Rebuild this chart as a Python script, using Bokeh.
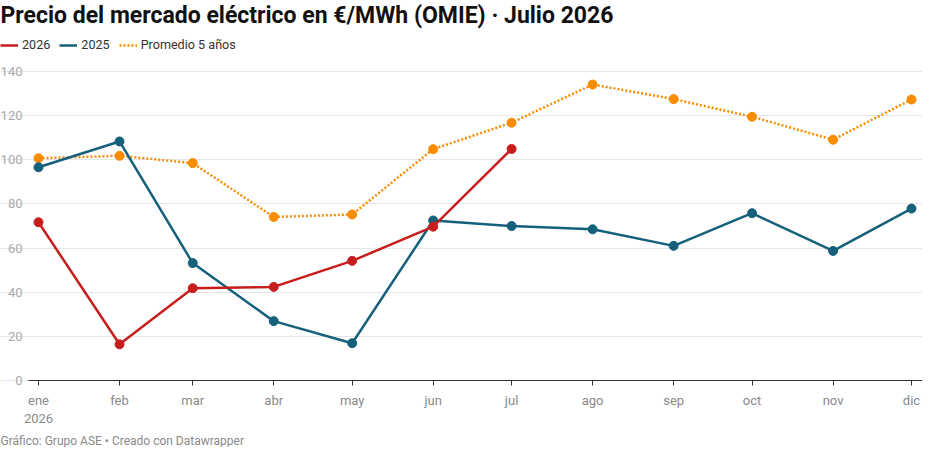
import pandas as pd
from bokeh.plotting import figure
from bokeh.models import FixedTicker, Legend, LegendItem, Label, Range1d
from bokeh.embed import file_html
from bokeh.resources import INLINE

# ---- data ----
months = ["2026-01-01", "2026-02-01", "2026-03-01", "2026-04-01", "2026-05-01", "2026-06-01",
          "2026-07-01", "2026-08-01", "2026-09-01", "2026-10-01", "2026-11-01", "2026-12-01"]
month_labels = ["ene\n2026", "feb", "mar", "abr", "may", "jun",
                "jul", "ago", "sep", "oct", "nov", "dic"]
y2026 = [71.7, 16.4, 41.8, 42.4, 54.2, 69.7, 104.9]
y2025 = [96.6, 108.3, 53.2, 26.9, 16.9, 72.5, 70.0, 68.5, 61.0, 75.8, 58.7, 77.9]
prom5 = [100.7, 101.8, 98.5, 74.1, 75.2, 104.8, 116.8, 134.1, 127.5, 119.5, 109.1, 127.3]
y_ticks = [0, 20, 40, 60, 80, 100, 120, 140]

title_text = "Precio del mercado eléctrico en €/MWh (OMIE) · Julio 2026"
footer_text = "Gráfico: Grupo ASE • Creado con Datawrapper"

RED = "#c71e1d"
BLUE = "#15607a"
ORANGE = "#fa8c00"
FONT = "Roboto"

base = pd.Timestamp("2026-01-01")
x_days = [(pd.Timestamp(m) - base).days for m in months]

# ---- layout (pixels within the canvas) ----
W, H = 922, 447
px_first, px_last = 38, 911      # screen x of first / last month
px_grid_left = 28                # where grid lines start
py_top, py_zero = 71, 380        # screen y of top tick (140) and 0 (from canvas top)

kx = (px_last - px_first) / (x_days[-1] - x_days[0])
x0 = x_days[0] - px_first / kx
x1 = x_days[-1] + (W - px_last) / kx
x_grid_left = x0 + px_grid_left / kx
ky = (py_zero - py_top) / (y_ticks[-1] - y_ticks[0])
y1 = y_ticks[-1] + py_top / ky
y0 = y_ticks[0] - (H - py_zero) / ky

p = figure(width=W, height=H, output_backend="svg", toolbar_location=None,
           x_range=Range1d(x0, x1), y_range=Range1d(y0, y1),
           min_border_left=0, min_border_right=0, min_border_top=0, min_border_bottom=0)
p.outline_line_color = None
p.background_fill_color = "white"
p.border_fill_color = "white"

# axes (placed inside the canvas)
p.xaxis.fixed_location = 0
p.xaxis.bounds = (x_grid_left, x1)
p.xaxis.ticker = FixedTicker(ticks=x_days)
p.xaxis.major_label_overrides = {d: lab for d, lab in zip(x_days, month_labels)}
p.xaxis.axis_line_color = "#333333"
p.xaxis.axis_line_width = 1
p.xaxis.major_tick_line_color = "#333333"
p.xaxis.major_tick_in = 0
p.xaxis.major_tick_out = 5
p.xaxis.minor_tick_line_color = None
p.xaxis.major_label_text_font = FONT
p.xaxis.major_label_text_font_size = "13px"
p.xaxis.major_label_text_color = "#8a8a8a"
p.xaxis.major_label_standoff = 7

p.yaxis.fixed_location = x_grid_left
p.yaxis.bounds = (0, 140)
p.yaxis.ticker = FixedTicker(ticks=y_ticks)
p.yaxis.axis_line_color = None
p.yaxis.major_tick_line_color = None
p.yaxis.major_tick_in = 0
p.yaxis.major_tick_out = 0
p.yaxis.minor_tick_line_color = None
p.yaxis.minor_tick_out = 0
p.yaxis.major_label_text_font = FONT
p.yaxis.major_label_text_font_size = "13px"
p.yaxis.major_label_text_color = "#aaaaaa"
p.yaxis.major_label_standoff = 6

p.xgrid.grid_line_color = None
p.ygrid.grid_line_color = "#e6e6e6"
p.ygrid.grid_line_width = 1
p.ygrid.bounds = (x_grid_left, x1)

# series
r_prom = p.line(x_days, prom5, line_color=ORANGE, line_width=2.5, line_dash="2 2")
p.scatter(x_days, prom5, size=9, fill_color=ORANGE, line_color=ORANGE)
r_25 = p.line(x_days, y2025, line_color=BLUE, line_width=2.5)
p.scatter(x_days, y2025, size=9, fill_color=BLUE, line_color=BLUE)
x26 = x_days[:len(y2026)]
r_26 = p.line(x26, y2026, line_color=RED, line_width=2.5)
p.scatter(x26, y2026, size=9, fill_color=RED, line_color=RED)

legend = Legend(items=[LegendItem(label="2026", renderers=[r_26]),
                       LegendItem(label="2025", renderers=[r_25]),
                       LegendItem(label="Promedio 5 años", renderers=[r_prom])],
                orientation="horizontal", location=(0, H - 52),
                glyph_width=18, glyph_height=14, label_standoff=4, spacing=9,
                padding=0, margin=0, border_line_color=None, background_fill_alpha=0,
                label_text_font=FONT, label_text_font_size="12.6px", label_text_color="#333333",
                label_height=14)
p.add_layout(legend, "center")

p.add_layout(Label(x=0, y=H - 15, x_units="screen", y_units="screen", text=title_text,
                   text_font=FONT, text_font_style="bold", text_font_size="23px",
                   text_color="#111111", text_baseline="middle"))
p.add_layout(Label(x=0, y=H - 440, x_units="screen", y_units="screen", text=footer_text,
                   text_font=FONT, text_font_size="12px", text_color="#8a8a8a",
                   text_baseline="middle"))

open("out.html", "w").write(file_html(p, INLINE))
